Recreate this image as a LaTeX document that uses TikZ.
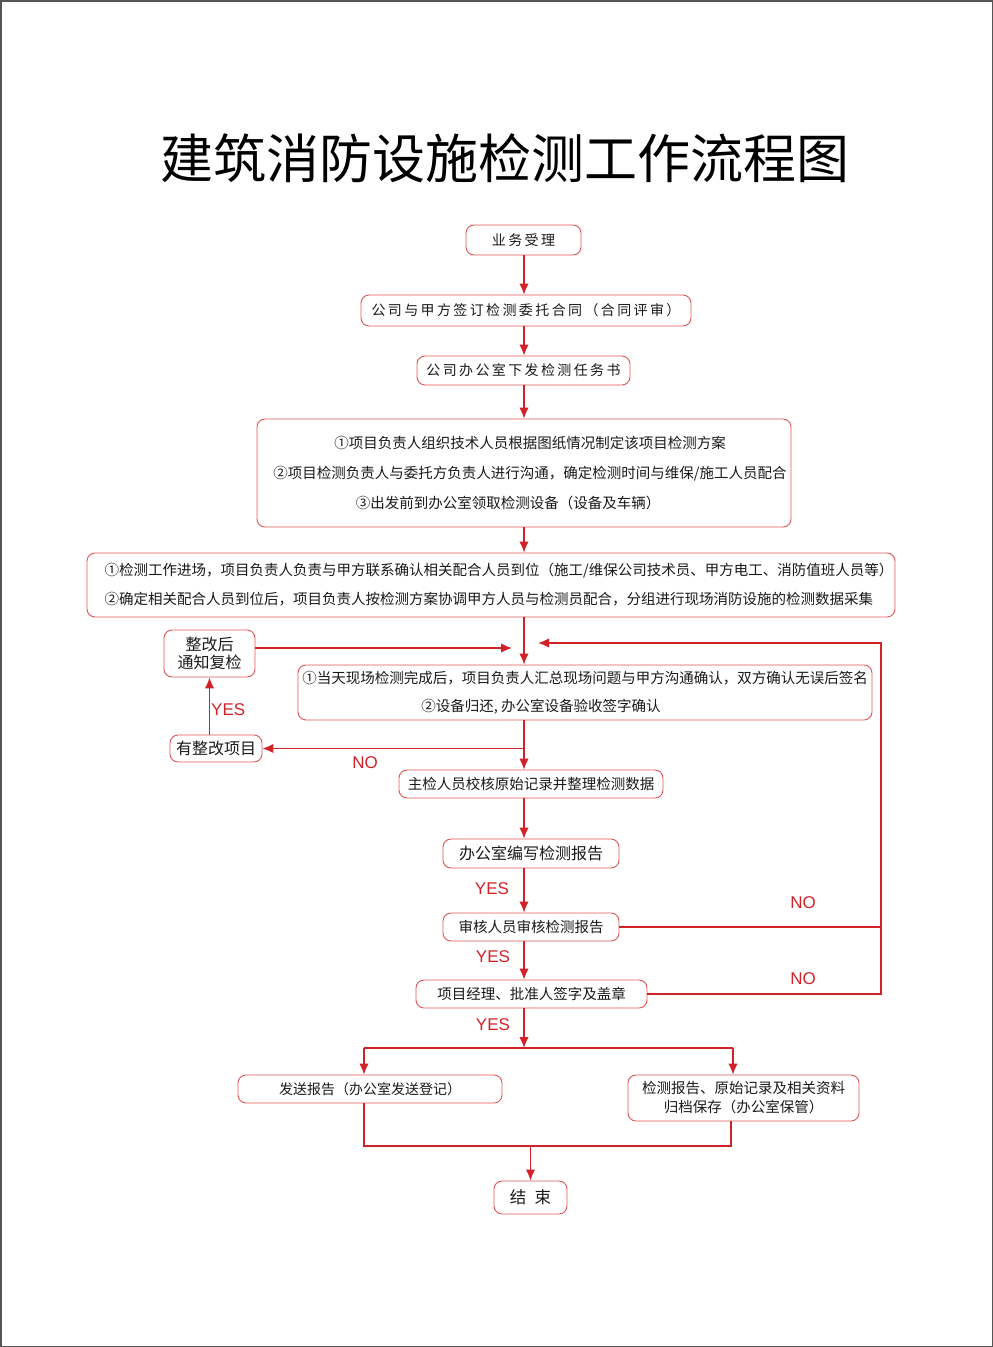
\documentclass[tikz,border=0pt]{standalone}
\usepackage{fontspec}
\setmainfont{Noto Sans CJK SC}
\newfontfamily\latinfont{Liberation Sans}
\newfontfamily\spacedfont[LetterSpace=17]{Noto Sans CJK SC}
\usetikzlibrary{arrows.meta,positioning}
\definecolor{linered}{RGB}{210,34,40}
\definecolor{boxred}{RGB}{224,84,84}
\definecolor{framegrey}{RGB}{85,85,85}
\tikzset{
    stepbox/.style={
        draw=boxred, line width=0.9pt, rounded corners=8pt,
        inner sep=0pt, align=center, text=black!90,
        font=\fontsize{14.5}{28}\selectfont
    }
}

\begin{document}
\begin{tikzpicture}[
        x=1pt, y=-1pt,
        flow/.style={draw=linered, line width=1.4pt, -{Latex[length=11pt,width=9.5pt]}},
        link/.style={draw=linered, line width=1.4pt},
        tag/.style={text=linered, inner sep=0pt, font=\latinfont\fontsize{17}{17}\selectfont}
      ]

  \useasboundingbox (0,0) rectangle (993,1347);
  \draw[framegrey, line width=1.5pt] (0.75,0.75) rectangle (992.25,1346.25);

  \node (T) at (505,158) {\fontsize{53}{53}\selectfont 建筑消防设施检测工作流程图};

  \coordinate (ax) at (524,0);

  \node[stepbox, minimum width=115, minimum height=30] (A) at (523.5,240)
      {\spacedfont\fontsize{14}{14}\selectfont 业务受理};
  \node[stepbox, minimum width=330, minimum height=31] (B) at (526,310.5)
      {\spacedfont\fontsize{14}{14}\selectfont 公司与甲方签订检测委托合同（合同评审）};
  \node[stepbox, minimum width=213, minimum height=29] (C) at (523.5,370.5)
      {\spacedfont\fontsize{14}{14}\selectfont 公司办公室下发检测任务书};
  \node[stepbox, minimum width=534, minimum height=108, font=\fontsize{14.5}{30}\selectfont] (D) at (524,473)
      {\hspace*{12pt}①项目负责人组织技术人员根据图纸情况制定该项目检测方案\\
       \hspace*{12pt}②项目检测负责人与委托方负责人进行沟通，确定检测时间与维保/施工人员配合\\
       \hspace*{12pt}③出发前到办公室领取检测设备（设备及车辆）\hspace*{44pt}};
  \node[stepbox, minimum width=808, minimum height=64, align=left, font=\fontsize{14.5}{29}\selectfont] (E) at (491,585)
      {\hspace*{16pt}①检测工作进场，项目负责人负责与甲方联系确认相关配合人员到位（施工/维保公司技术员、甲方电工、消防值班人员等）\\
       \hspace*{16pt}②确定相关配合人员到位后，项目负责人按检测方案协调甲方人员与检测员配合，分组进行现场消防设施的检测数据采集};

  \node[stepbox, minimum width=91, minimum height=47, font=\fontsize{16}{18}\selectfont] (F) at (209.5,653.5)
      {整改后\\通知复检};
  \node[stepbox, minimum width=574, minimum height=55] (G) at (585,692.5)
      {①当天现场检测完成后，项目负责人汇总现场问题与甲方沟通确认，双方确认无误后签名\\
       ②设备归还, 办公室设备验收签字确认\hspace*{88pt}};
  \node[stepbox, minimum width=92, minimum height=27, font=\fontsize{16}{16}\selectfont] (H) at (216,748.5)
      {有整改项目};
  \node[stepbox, minimum width=264, minimum height=28] (I) at (531,784)
      {主检人员校核原始记录并整理检测数据};
  \node[stepbox, minimum width=176, minimum height=29, font=\fontsize{16}{16}\selectfont] (J) at (531,853.5)
      {办公室编写检测报告};
  \node[stepbox, minimum width=176, minimum height=28] (K) at (531,927)
      {审核人员审核检测报告};
  \node[stepbox, minimum width=231, minimum height=28] (L) at (531.5,994)
      {项目经理、批准人签字及盖章};
  \node[stepbox, minimum width=264, minimum height=28, font=\fontsize{14}{14}\selectfont] (M) at (370,1089)
      {发送报告（办公室发送登记）};
  \node[stepbox, minimum width=231, minimum height=46, font=\fontsize{14.5}{19}\selectfont] (N) at (743.5,1098)
      {检测报告、原始记录及相关资料\\归档保存（办公室保管）};
  \node[stepbox, minimum width=73, minimum height=33, font=\fontsize{16.5}{16.5}\selectfont] (O) at (530.5,1197.5)
      {结\hspace{0.5em}束};

  % main line
  \draw[flow] (A.south -| ax) -- (B.north -| ax);
  \draw[flow] (B.south -| ax) -- (C.north -| ax);
  \draw[flow] (C.south -| ax) -- (D.north -| ax);
  \draw[flow] (D.south -| ax) -- (E.north -| ax);
  \draw[flow] (E.south -| ax) -- (G.north -| ax);
  \draw[flow] (G.south -| ax) -- (I.north -| ax);
  \draw[flow] (I.south -| ax) -- (J.north -| ax);
  \draw[flow] (J.south -| ax) -- (K.north -| ax);
  \draw[flow] (K.south -| ax) -- (L.north -| ax);

  % rectification loop
  \coordinate (fin) at (512,648);
  \draw[flow] (H.east -| ax) -- (H.east);
  \draw[flow] (H.north -| F) -- (F.south);
  \draw[flow] (F.east |- fin) -- (fin);

  % review loop
  \coordinate (rc) at (881,643);
  \coordinate (back) at (538,643);
  \draw[flow] (L.east) -| (rc) -- (back);
  \draw[link] (K.east) -- (K.east -| rc);

  % split and join
  \coordinate (sp) at (524,1048);
  \coordinate (ml) at (364,1048);
  \coordinate (mr) at (733,1048);
  \coordinate (jn) at (530.5,1146);
  \draw[flow] (L.south -| ax) -- (sp);
  \draw[link] (ml) -- (mr);
  \draw[flow] (ml) -- (ml |- M.north);
  \draw[flow] (mr) -- (mr |- N.north);
  \draw[link] (ml |- M.south) |- (jn) -| ([xshift=-2pt]mr |- N.south);
  \draw[flow] (jn) -- (O.north);

  % labels
  \node[tag, anchor=west] (y1) at (211,710) {YES};
  \node[tag] (y2) at (492,889) {YES};
  \node[tag] (y3) at (493,957) {YES};
  \node[tag] (y4) at (493,1025) {YES};
  \node[tag] (n1) at (365,763) {NO};
  \node[tag] (n2) at (803,903) {NO};
  \node[tag] (n3) at (803,979) {NO};

\end{tikzpicture}
\end{document}
